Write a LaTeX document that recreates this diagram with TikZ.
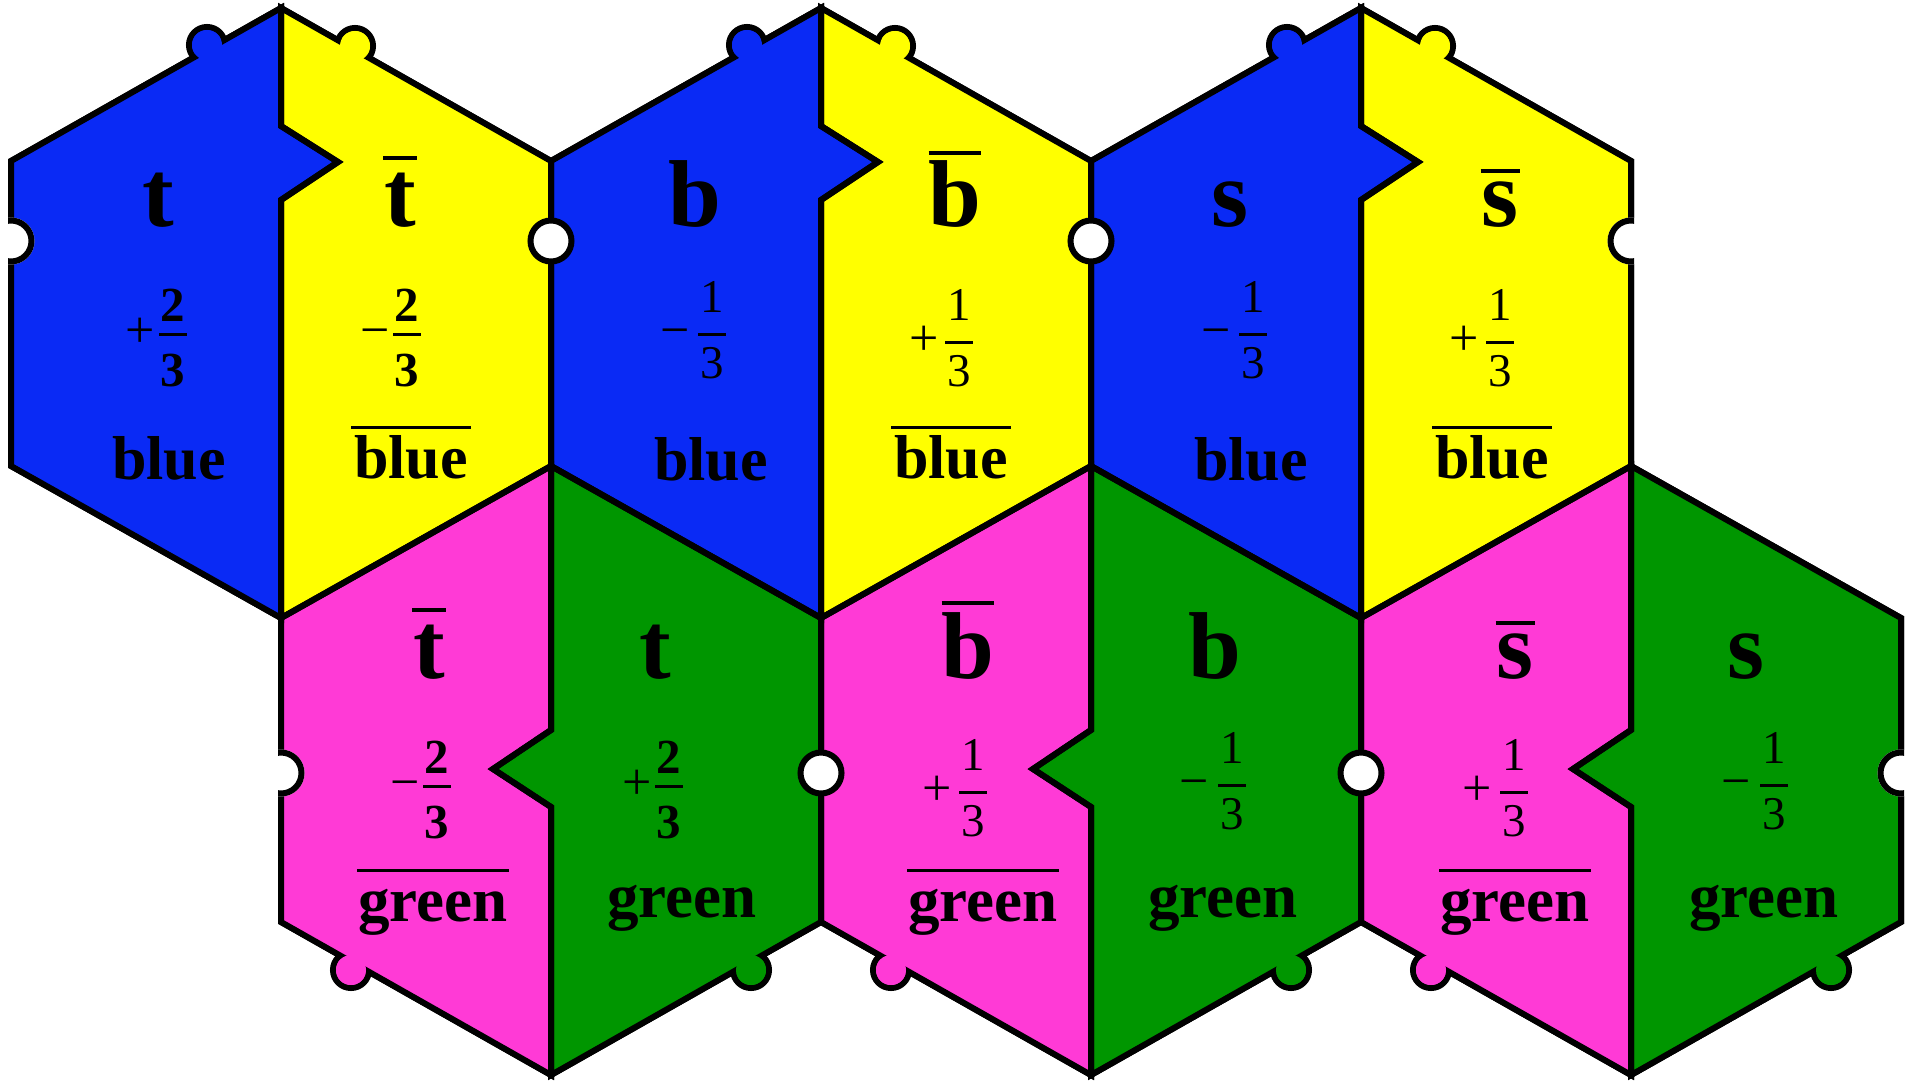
\documentclass[tikz,border=0pt]{standalone}
\usepackage{fontspec}
\setmainfont{Liberation Serif}
\definecolor{qblue}{RGB}{10,42,245}
\definecolor{qyellow}{RGB}{255,255,0}
\definecolor{qpink}{RGB}{255,58,214}
\definecolor{qgreen}{RGB}{0,150,0}
% overline: #1 raise of bar bottom, #2 thickness, #3 extra on each side, #4 text
\newcommand\ovl[4]{\setbox0=\hbox{#4}\hbox{\rlap{\kern-#3\rule[#1]{\dimexpr\wd0+#3+#3\relax}{#2}}\box0}}
% half-hexagon paths
\newcommand\pTL[1]{(#1,8) -- (#1,126) -- (#1+57,162) -- (#1,200) -- (#1,618) -- (#1-270,466) -- (#1-270,161) -- cycle}
\newcommand\pTR[1]{(#1,8) -- (#1+270,161) -- (#1+270,466) -- (#1,618) -- (#1,200) -- (#1+57,162) -- (#1,126) -- cycle}
\newcommand\pBL[1]{(#1,466) -- (#1-270,618) -- (#1-270,922) -- (#1,1075) -- (#1,807) -- (#1-58,769) -- (#1,730) -- cycle}
\newcommand\pBR[1]{(#1,466) -- (#1,730) -- (#1-58,769) -- (#1,807) -- (#1,1075) -- (#1+270,922) -- (#1+270,618) -- cycle}
% fractions: #1 name, #2 sign x, #3 sign, #4 bar centre x, #5 bar y
\newcommand\qfb[5]{%
  \node[sgn] (#1s) at (#2,#5+13) {#3};
  \node[fbold] (#1n) at (#4,#5-13) {2};
  \node[fbold] (#1d) at (#4,#5+52) {3};
  \node[fbar] (#1b) at (#4,#5) {};}
\newcommand\qfr[5]{%
  \node[sgn] (#1s) at (#2,#5+13) {#3};
  \node[freg] (#1n) at (#4,#5-22) {1};
  \node[freg] (#1d) at (#4,#5+44) {3};
  \node[fbar] (#1b) at (#4,#5) {};}
\begin{document}
\begin{tikzpicture}[x=1pt,y=-1pt,line join=miter,
  big/.style={font=\fontsize{95}{95}\selectfont\bfseries,inner sep=0pt,anchor=base},
  word/.style={font=\fontsize{62}{62}\selectfont\bfseries,inner sep=0pt,anchor=base},
  gword/.style={font=\fontsize{63}{63}\selectfont\bfseries,inner sep=0pt,anchor=base},
  sgn/.style={font=\fontsize{52}{52}\selectfont,inner sep=0pt,anchor=base},
  fbold/.style={font=\fontsize{49}{49}\selectfont\bfseries,inner sep=0pt,anchor=base},
  freg/.style={font=\fontsize{47}{47}\selectfont,inner sep=0pt,anchor=base},
  fbar/.style={fill=black,draw=none,inner sep=0pt,minimum width=28pt,minimum height=3pt},
  edge5/.style={line width=6pt},
  hole/.style={line width=6pt,fill=white}]
\useasboundingbox (0,0) rectangle (1916,1081);
% layer A: outer outline bands
\foreach \c in {281,821,1361} {
  \draw[edge5] \pTL{\c};
  \draw[edge5] \pTR{\c};
  \draw[line width=12pt] (\c-74,45) circle (15pt);
  \draw[line width=12pt] (\c+74,46) circle (15pt);
}
\foreach \c in {551,1091,1631} {
  \draw[edge5] \pBL{\c};
  \draw[edge5] \pBR{\c};
  \draw[line width=12pt] (\c-200,970) circle (15pt);
  \draw[line width=12pt] (\c+200,970) circle (15pt);
}
% layer B: fills
\foreach \c in {281,821,1361} {
  \fill[qblue] \pTL{\c};
  \fill[qyellow] \pTR{\c};
  \fill[qblue] (\c-74,45) circle (15pt);
  \fill[qyellow] (\c+74,46) circle (15pt);
}
\foreach \c in {551,1091,1631} {
  \fill[qpink] \pBL{\c};
  \fill[qgreen] \pBR{\c};
  \fill[qpink] (\c-200,970) circle (15pt);
  \fill[qgreen] (\c+200,970) circle (15pt);
}
% layer C: all edges, then reopen the tabs
\foreach \c in {281,821,1361} {
  \draw[edge5] \pTL{\c};
  \draw[edge5] \pTR{\c};
}
\foreach \c in {551,1091,1631} {
  \draw[edge5] \pBL{\c};
  \draw[edge5] \pBR{\c};
}
\foreach \c in {281,821,1361} {
  \fill[qblue] (\c-74,45) circle (15pt);
  \fill[qyellow] (\c+74,46) circle (15pt);
}
\foreach \c in {551,1091,1631} {
  \fill[qpink] (\c-200,970) circle (15pt);
  \fill[qgreen] (\c+200,970) circle (15pt);
}
% layer D: holes
\foreach \x in {551,1091} \draw[hole] (\x,241) circle (20.5pt);
\foreach \x in {821,1361} \draw[hole] (\x,773) circle (20.5pt);
\fill[white] (11,241) circle (23.5pt);
\begin{scope}\clip (8,0) rectangle (100,1081); \draw[edge5] (11,241) circle (20.5pt);\end{scope}
\fill[white] (1631,241) circle (23.5pt);
\begin{scope}\clip (1500,0) rectangle (1634,1081); \draw[edge5] (1631,241) circle (20.5pt);\end{scope}
\fill[white] (281,773) circle (23.5pt);
\begin{scope}\clip (278,0) rectangle (400,1081); \draw[edge5] (281,773) circle (20.5pt);\end{scope}
\fill[white] (1901,773) circle (23.5pt);
\begin{scope}\clip (1780,0) rectangle (1904,1081); \draw[edge5] (1901,773) circle (20.5pt);\end{scope}
% layer E: texts
\node[big] (L1) at (158,226) {t};
\node[big] (L2) at (400,226) {\ovl{66pt}{4pt}{1pt}{t}};
\node[big] (L3) at (695,226) {b};
\node[big] (L4) at (955,226) {\ovl{71pt}{4pt}{0pt}{b}};
\node[big] (L5) at (1230,226) {s};
\node[big] (L6) at (1500,226) {\ovl{53pt}{4pt}{1pt}{s}};
\node[word] (W1) at (169,479) {blue};
\node[word] (W2) at (411,478) {\ovl{49pt}{3pt}{3pt}{blue}};
\node[word] (W3) at (711,480) {blue};
\node[word] (W4) at (951,478) {\ovl{49pt}{3pt}{3pt}{blue}};
\node[word] (W5) at (1251,480) {blue};
\node[word] (W6) at (1492,478) {\ovl{49pt}{3pt}{3pt}{blue}};
\node[big] (L7) at (429,678) {\ovl{66pt}{4pt}{1pt}{t}};
\node[big] (L8) at (655,678) {t};
\node[big] (L9) at (968,678) {\ovl{73pt}{4pt}{0pt}{b}};
\node[big] (L10) at (1215,678) {b};
\node[big] (L11) at (1515,678) {\ovl{53pt}{4pt}{1pt}{s}};
\node[big] (L12) at (1746,678) {s};
\node[gword] (W7) at (433,921) {\ovl{49pt}{3pt}{1pt}{green}};
\node[gword] (W8) at (682,917) {green};
\node[gword] (W9) at (983,921) {\ovl{49pt}{3pt}{1pt}{green}};
\node[gword] (W10) at (1223,917) {green};
\node[gword] (W11) at (1515,921) {\ovl{49pt}{3pt}{1pt}{green}};
\node[gword] (W12) at (1764,917) {green};
\qfb{F1}{140}{+}{173}{334}
\qfb{F2}{375}{−}{407}{334}
\qfr{F3}{675}{−}{712}{334}
\qfr{F4}{924}{+}{959}{342}
\qfr{F5}{1216}{−}{1253}{334}
\qfr{F6}{1464}{+}{1500}{342}
\qfb{F7}{405}{−}{437}{786}
\qfb{F8}{637}{+}{669}{786}
\qfr{F9}{937}{+}{973}{792}
\qfr{F10}{1194}{−}{1232}{785}
\qfr{F11}{1477}{+}{1514}{792}
\qfr{F12}{1736}{−}{1774}{785}
\end{tikzpicture}
\end{document}
